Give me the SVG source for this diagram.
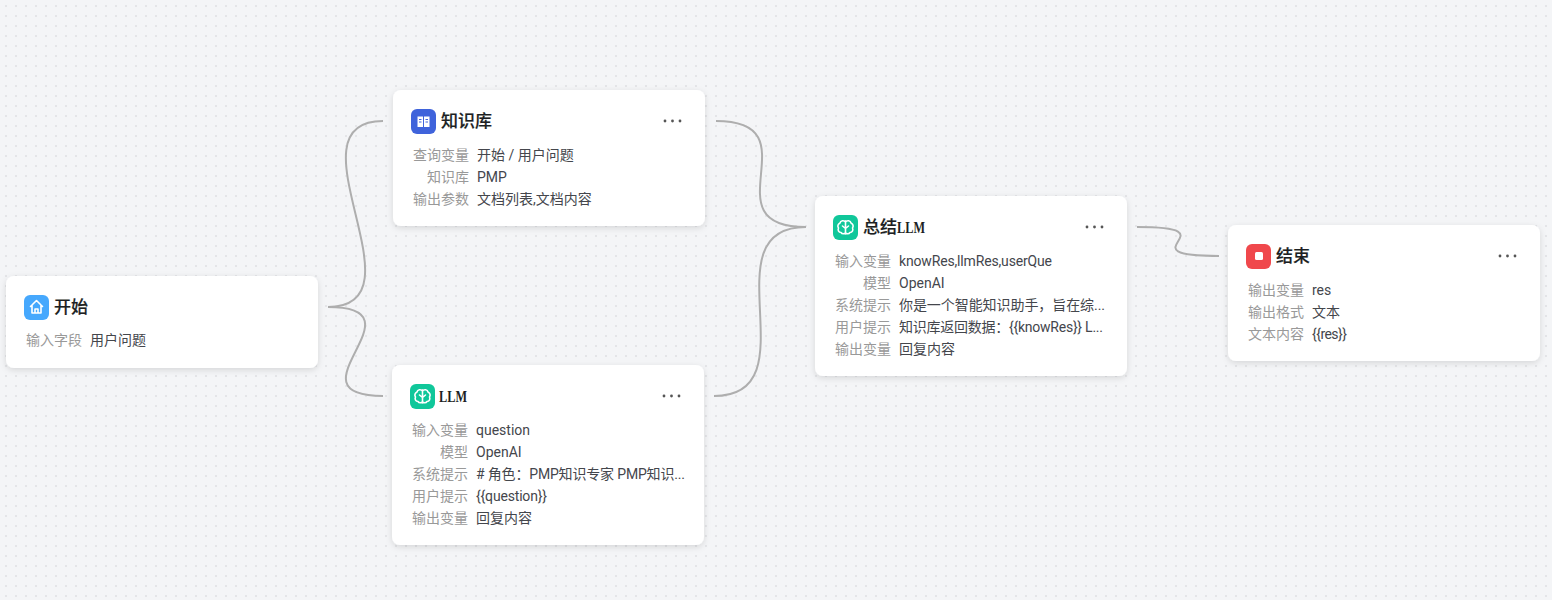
<svg xmlns="http://www.w3.org/2000/svg" width="1552" height="600" viewBox="0 0 1552 600">
<style>
.card{fill:#fff;filter:url(#sh)}
text{font-family:"Noto Sans CJK SC","Noto Sans",sans-serif;font-size:14px}
.t{font-size:17px;font-weight:500;fill:#1c1f23;stroke:#1c1f23;stroke-width:.2}
.m{font-family:"Liberation Serif","Noto Sans CJK SC",serif;font-size:17.5px;font-weight:700;fill:#1c1f23}
.l{fill:#999;text-anchor:end}
.v{fill:#44464c;font-family:Roboto,"Noto Sans CJK SC",sans-serif;font-size:14px}
.c{fill:none;stroke:#aeaeae;stroke-width:2}
.d{fill:#555}
.i{fill:none;stroke:#fff;stroke-width:1.6;stroke-linejoin:round;stroke-linecap:round}
</style>
<defs>
<pattern id="dots" width="10" height="10" patternUnits="userSpaceOnUse"><rect x="5" y="5" width="2" height="2" fill="#e4e5e8"/></pattern>
<filter id="sh" x="-10%" y="-20%" width="120%" height="150%"><feDropShadow dx="0" dy="2" stdDeviation="3" flood-color="#000" flood-opacity=".13"/></filter>
<g id="dots3"><circle cx="1" cy="0" r="1.4"/><circle cx="8.500" cy="0" r="1.4"/><circle cx="16" cy="0" r="1.4"/></g>
<g id="brain"><rect width="25" height="25" rx="6" fill="#10c79a"/><path class="i" stroke-width="1.800" d="M12.500 6v13M12.500 7c-1.500-2-5-1.500-5.500 1-2.200 1-2.700 3.400-1.500 5-1 2.200.3 4.400 2.500 4.500 1 1.700 3.500 1.700 4.500.2M12.500 7c1.500-2 5-1.500 5.500 1 2.200 1 2.700 3.400 1.500 5 1 2.200-.3 4.400-2.500 4.500-1 1.700-3.500 1.700-4.500.2M9.500 11l3 2.500M15.500 11l-3 2.500"/></g>
</defs>
<rect width="1552" height="600" fill="#f4f5f7"/>
<rect width="1552" height="600" fill="url(#dots)"/>
<g id="connectors">
<path class="c" d="M328 307C428 307 283 121 383 121"/>
<path class="c" d="M328 307C428 307 283 396 383 396"/>
<path class="c" d="M716 121C816 121 706 227 806 227"/>
<path class="c" d="M714 396C814 396 706 227 806 227"/>
<path class="c" d="M1137 227C1237 227 1119 256 1219 256"/>
</g>
<g id="node-start">
<rect class="card" x="6" y="276" width="312" height="92" rx="8"/>
<rect x="24" y="295" width="25" height="25" rx="6" fill="#46a8fd"/>
<path class="i" d="M30.500 306.500l6-6 6 6M32 305v8h9v-8M35 313v-4h3v4"/>
<text class="t" x="54" y="313">开始</text>
<text class="l" x="82" y="345">输入字段</text>
<text class="v" x="90" y="345">用户问题</text>
</g>
<g id="node-knowledge">
<rect class="card" x="393" y="90" width="312" height="136" rx="8"/>
<rect x="411" y="109" width="25" height="25" rx="6" fill="#3f63db"/>
<path d="M417.500 116.500h5.500v10.500h-5.500zM424 116.500h5.500v10.500h-5.500z" fill="#fff"/>
<path d="M419 119.500h2.500M419 122h2.500M425.500 119.500h2.500M425.500 122h2.500" stroke="#3f63db" fill="none"/>
<text class="t" x="441" y="127">知识库</text>
<use href="#dots3" x="664" y="121" class="d"/>
<text class="l" x="469" y="160">查询变量</text><text class="v" x="477" y="160">开始 / 用户问题</text>
<text class="l" x="469" y="182">知识库</text><text class="v" x="477" y="182">PMP</text>
<text class="l" x="469" y="204">输出参数</text><text class="v" x="477" y="204">文档列表,文档内容</text>
</g>
<g id="node-llm">
<rect class="card" x="392" y="365" width="312" height="180" rx="8"/>
<use href="#brain" x="410" y="384"/>
<text class="m" x="439" y="402" textLength="28" lengthAdjust="spacingAndGlyphs">LLM</text>
<use href="#dots3" x="663" y="396" class="d"/>
<text class="l" x="468" y="435">输入变量</text><text class="v" x="476" y="435">question</text>
<text class="l" x="468" y="457">模型</text><text class="v" x="476" y="457">OpenAI</text>
<text class="l" x="468" y="479">系统提示</text><text class="v" x="476" y="479" textLength="209">&#35; 角色：PMP知识专家 PMP知识...</text>
<text class="l" x="468" y="501">用户提示</text><text class="v" x="476" y="501" textLength="71">{{question}}</text>
<text class="l" x="468" y="523">输出变量</text><text class="v" x="476" y="523">回复内容</text>
</g>
<g id="node-summary">
<rect class="card" x="815" y="196" width="312" height="180" rx="8"/>
<use href="#brain" x="833" y="215"/>
<text class="t" x="863" y="233">总结</text><text class="m" x="897" y="233" textLength="28" lengthAdjust="spacingAndGlyphs">LLM</text>
<use href="#dots3" x="1086" y="227" class="d"/>
<text class="l" x="891" y="266">输入变量</text><text class="v" x="899" y="266" textLength="153">knowRes,llmRes,userQue</text>
<text class="l" x="891" y="288">模型</text><text class="v" x="899" y="288">OpenAI</text>
<text class="l" x="891" y="310">系统提示</text><text class="v" x="899" y="310" textLength="206">你是一个智能知识助手，旨在综...</text>
<text class="l" x="891" y="332">用户提示</text><text class="v" x="899" y="332" textLength="204">知识库返回数据：{{knowRes}} L...</text>
<text class="l" x="891" y="354">输出变量</text><text class="v" x="899" y="354">回复内容</text>
</g>
<g id="node-end">
<rect class="card" x="1228" y="225" width="312" height="136" rx="8"/>
<rect x="1246" y="244" width="25" height="25" rx="6" fill="#f0484c"/>
<rect x="1255" y="252" width="8" height="8" rx="1.500" fill="#fff"/>
<text class="t" x="1276" y="262">结束</text>
<use href="#dots3" x="1499" y="256" class="d"/>
<text class="l" x="1304" y="295">输出变量</text><text class="v" x="1312" y="295">res</text>
<text class="l" x="1304" y="317">输出格式</text><text class="v" x="1312" y="317">文本</text>
<text class="l" x="1304" y="339">文本内容</text><text class="v" x="1312" y="339" textLength="35">{{res}}</text>
</g>
</svg>
